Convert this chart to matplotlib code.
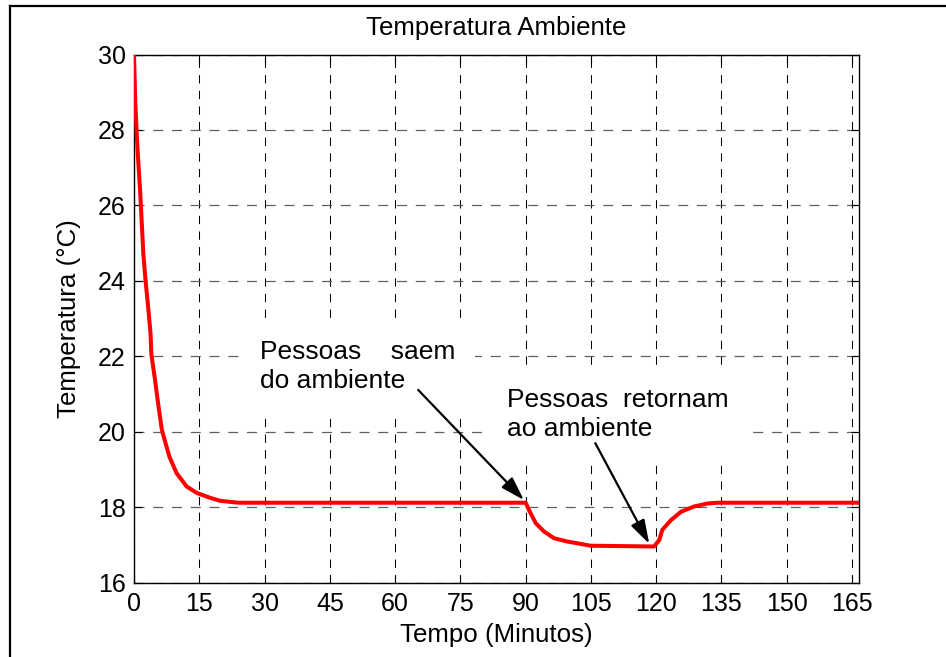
import numpy as np
import matplotlib
matplotlib.use("Agg")
import matplotlib.pyplot as plt
from matplotlib.lines import Line2D

plt.rcParams['font.family'] = ['Liberation Sans', 'DejaVu Sans']

# temperatura ambiente (°C) x tempo (minutos)
tempo = [0, 0.3, 0.8, 1.4, 1.8, 2.15, 2.7, 3.3, 3.8, 4.0, 4.8, 5.6, 6.4,
         8.1, 9.8, 12.1, 14.4, 17.5, 19.8, 24, 90, 90.8, 92.3, 94.2, 96.5,
         99.6, 102.6, 104.9, 119.5, 120.7, 121.4, 123.4, 125.7, 128.7,
         131.8, 134.1, 166.67]
temperatura = [30, 28.7, 27.5, 26.4, 25.5, 24.7, 23.95, 23.25, 22.6, 22.05,
               21.4, 20.7, 20.05, 19.35, 18.9, 18.55, 18.38, 18.25, 18.17,
               18.12, 18.12, 17.92, 17.58, 17.36, 17.18, 17.09, 17.03, 16.98,
               16.96, 17.13, 17.4, 17.66, 17.88, 18.02, 18.1, 18.12, 18.12]

xticks = list(range(0, 166, 15))
yticks = list(range(16, 31, 2))

# anotacoes: (texto, inicio da seta, tempo do evento, posicao do texto)
notas = [
    ("Pessoas    saem\ndo ambiente", (65.3, 21.11), 89.6, (29.0, 22.42)),
    ("Pessoas  retornam\nao ambiente", (106.0, 19.70), 118.4, (85.6, 21.15)),
]

fig = plt.figure(figsize=(9.46, 6.57), dpi=100)
ax = fig.add_axes([134 / 946, 1 - 582.7 / 657, (859.3 - 134) / 946,
                   (582.7 - 54.5) / 657])

ax.plot(tempo, temperatura, color='red', lw=2.9, zorder=3)

ax.set_xlim(0, tempo[-1])
ax.set_ylim(16, 30)
ax.set_xticks(xticks)
ax.set_yticks(yticks)
ax.tick_params(direction='in', top=True, right=True, length=6,
               labelsize=18, width=0.8)
ax.tick_params(axis='x', pad=7)
ax.tick_params(axis='y', pad=6)
ax.xaxis.grid(True, color='black', linestyle=(0, (8, 7)), linewidth=0.75)
ax.yaxis.grid(True, color='#606060', linestyle=(0, (8, 7)), linewidth=0.9)
for s in ax.spines.values():
    s.set_linewidth(1.0)

ax.set_title('Temperatura Ambiente', fontsize=18.6, pad=14)
ax.set_xlabel('Tempo (Minutos)', fontsize=18.6, labelpad=5)
ax.set_ylabel('Temperatura (°C)', fontsize=18.6, labelpad=12)

for texto, ini, t_evento, pos in notas:
    alvo = (t_evento, np.interp(t_evento, tempo, temperatura) + 0.07)
    ax.annotate('', xy=alvo, xytext=ini,
                arrowprops=dict(arrowstyle='-|>,head_length=1.45,head_width=0.45',
                                color='black', lw=1.6, shrinkA=0, shrinkB=0),
                zorder=5)
    ax.text(pos[0], pos[1], texto, fontsize=19, ha='left', va='top',
            linespacing=1.25, zorder=4,
            bbox=dict(facecolor='white', edgecolor='none', pad=14))

# moldura da figura
fig.add_artist(Line2D([10 / 946, 10 / 946], [0, 1 - 5.7 / 657],
                      transform=fig.transFigure, color='black', lw=1.6))
fig.add_artist(Line2D([10 / 946, 1], [1 - 5.7 / 657, 1 - 5.7 / 657],
                      transform=fig.transFigure, color='black', lw=1.6))

fig.savefig('out.png', dpi=100)
